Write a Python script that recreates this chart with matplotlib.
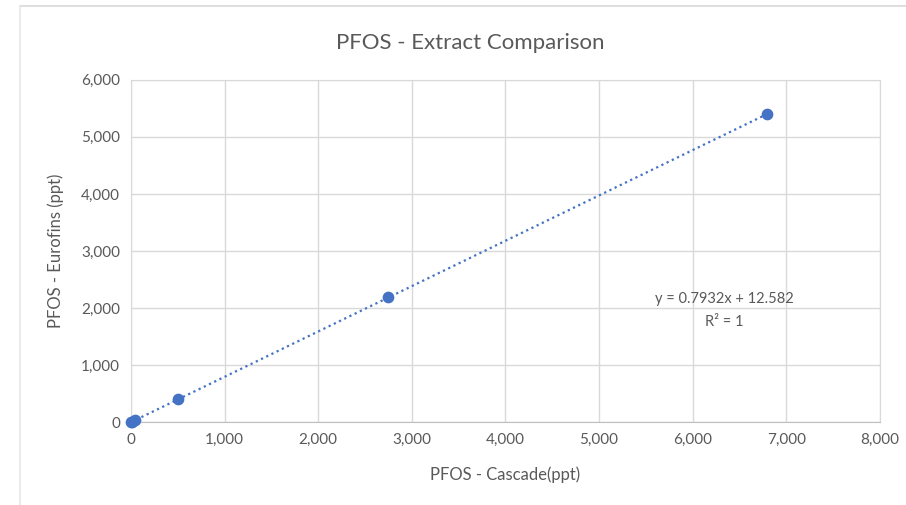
import numpy as np
import matplotlib.pyplot as plt
from matplotlib.lines import Line2D

cascade = [0, 15, 40, 500, 2750, 6800]
eurofins = [0, 10, 30, 400, 2190, 5400]
x_ticks = [0, 1000, 2000, 3000, 4000, 5000, 6000, 7000, 8000]
y_ticks = [0, 1000, 2000, 3000, 4000, 5000, 6000]

plt.rcParams['font.family'] = ['Lato', 'DejaVu Sans']
blue = '#4472c4'
txt = '#595959'

fig = plt.figure(figsize=(9.06, 5.05), dpi=100)
ax = fig.add_axes([0.1446, 0.164, 0.8264, 0.678])

ax.scatter(cascade, eurofins, s=55, color=blue, zorder=3, clip_on=False)

slope, icpt = np.polyfit(cascade, eurofins, 1)
xs = np.array([0, max(cascade)])
ax.plot(xs, slope * xs + icpt, color=blue, linestyle=(0, (1, 1.6)), linewidth=1.6, zorder=2)

ax.set_xlim(0, 8000)
ax.set_ylim(0, 6000)
ax.set_xticks(x_ticks)
ax.set_yticks(y_ticks)
ax.set_xticklabels([f'{v:,}' for v in x_ticks])
ax.set_yticklabels([f'{v:,}' for v in y_ticks])
ax.tick_params(length=0, labelsize=11, labelcolor=txt, pad=8)
ax.grid(True, color='#d9d9d9', linewidth=1)
ax.set_axisbelow(True)
for s in ax.spines.values():
    s.set_color('#d9d9d9')
ax.spines['bottom'].set_color('#bfbfbf')

ax.set_xlabel('PFOS - Cascade(ppt)', fontsize=12, color=txt, labelpad=14)
ax.set_ylabel('PFOS - Eurofins (ppt)', fontsize=12, color=txt, labelpad=12)
fig.text(0.519, 0.915, 'PFOS - Extract Comparison', fontsize=16, color=txt,
         ha='center', va='center')

ax.text(0.799, 0.385, 'y = 0.7932x + 12.582\nR² = 1', transform=fig.transFigure,
        ha='center', va='center', fontsize=10.5, color=txt, linespacing=1.8)

# light chart-area border
fig.add_artist(Line2D([0.022, 1.0], [0.988, 0.988], color='#d9d9d9', lw=1.2))
fig.add_artist(Line2D([0.022, 0.022], [0.0, 0.988], color='#e6e6e6', lw=1.2))

fig.savefig('out.png', dpi=100)
